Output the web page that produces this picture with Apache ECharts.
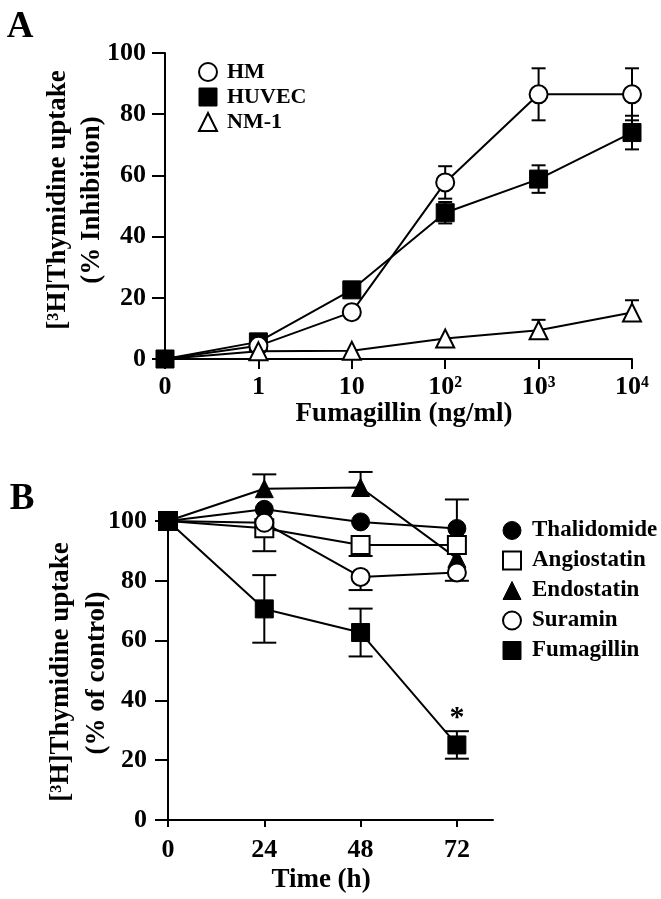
<!DOCTYPE html>
<html>
<head>
<meta charset="utf-8">
<script src="https://cdn.jsdelivr.net/npm/echarts@6/dist/echarts.min.js"></script>
<style>
html,body{margin:0;padding:0;background:#fff;}
#c{width:661px;height:899px;}
</style>
</head>
<body>
<div id="c"></div>
<script>
// ---------- Panel A data ----------
const xTicksA = ['0', '1', '10', '10²', '10³', '10⁴'];
const yTicksA = [0, 20, 40, 60, 80, 100];
const seriesNamesA = ['HM', 'HUVEC', 'NM-1'];
const hmA = [0, 4.3, 15.3, 57.7, 86.5, 86.5];
const hmErrA = [0, 0, 0, 5.3, 8.5, 8.5];
const huvecA = [0, 5.6, 22.6, 47.8, 58.8, 74];
const huvecErrA = [0, 0, 0, 3.5, 4.5, 5.5];
const nm1A = [0, 2.5, 2.7, 6.7, 9.4, 15.2];
const nm1ErrUpA = [0, 0, 0, 0, 3.4, 4];

// ---------- Panel B data ----------
const timeB = [0, 24, 48, 72];
const xTicksB = [0, 24, 48, 72];
const yTicksB = [0, 20, 40, 60, 80, 100];
const legendOrderB = ['Thalidomide', 'Angiostatin', 'Endostatin', 'Suramin', 'Fumagillin'];
const thalB = [100, 103.9, 99.7, 97.5];
const thalErrUpB = [0, 0, 0, 9.7];
const angioB = [100, 97.6, 92, 92];
const angioErrDownB = [0, 7.7, 3.7, 0];
const endoB = [100, 110.8, 111.2, 87.5];
const endoErrUpB = [0, 4.8, 5.2, 0];
const suraB = [100, 99.4, 81.3, 82.8];
const suraErrDownB = [0, 0, 4.4, 2.8];
const fumaB = [100, 70.6, 62.7, 25.1];
const fumaErrB = [0, 11.3, 8, 4.6];
const starIndexB = 3;

const FONT = 'Liberation Serif';

function errRows(xs, ys, up, down) {
  const rows = [];
  for (let i = 0; i < ys.length; i++) {
    if ((up[i] || 0) === 0 && (down[i] || 0) === 0) continue;
    rows.push([xs[i], ys[i], ys[i] - (down[i] || 0), ys[i] + (up[i] || 0)]);
  }
  return rows;
}

function errSeries(rows, xi, capW) {
  return {
    type: 'custom', xAxisIndex: xi, yAxisIndex: xi, z: 1, silent: true, clip: false,
    data: rows,
    encode: { x: 0, y: [1, 2, 3] },
    renderItem: function (params, api) {
      const x = api.value(0), y = api.value(1), lo = api.value(2), hi = api.value(3);
      const pLo = api.coord([x, lo]), pHi = api.coord([x, hi]);
      const hw = capW / 2;
      const st = { stroke: '#000', lineWidth: 2 };
      const ch = [{ type: 'line', shape: { x1: pLo[0], y1: pLo[1], x2: pHi[0], y2: pHi[1] }, style: st }];
      if (hi > y) ch.push({ type: 'line', shape: { x1: pHi[0] - hw, y1: pHi[1], x2: pHi[0] + hw, y2: pHi[1] }, style: st });
      if (lo < y) ch.push({ type: 'line', shape: { x1: pLo[0] - hw, y1: pLo[1], x2: pLo[0] + hw, y2: pLo[1] }, style: st });
      return { type: 'group', children: ch };
    }
  };
}

const openStyle = { color: '#fff', borderColor: '#000', borderWidth: 2 };
const fillStyle = { color: '#000', borderColor: '#000', borderWidth: 1 };

function lineSeries(name, xs, ys, xi, symbol, style, hideFirst, z, extra) {
  const data = ys.map((v, i) => {
    const item = { value: [xs[i], v] };
    if (hideFirst && i === 0) item.symbolSize = 0;
    if (extra && extra[i]) Object.assign(item, extra[i]);
    return item;
  });
  return {
    type: 'line', name: name, xAxisIndex: xi, yAxisIndex: xi, clip: false,
    data: data, symbol: symbol, symbolSize: 18, showAllSymbol: true,
    lineStyle: { color: '#000', width: 2 },
    itemStyle: style, z: z, silent: true
  };
}

const xA = xTicksA.map((t, i) => i);

const starExtra = [];
starExtra[starIndexB] = {
  label: { show: true, formatter: '*', position: 'top', distance: 2, fontFamily: FONT, fontWeight: 'bold', fontSize: 30, color: '#000' }
};

const axisText = { fontFamily: FONT, fontWeight: 'bold', fontSize: 26, color: '#000' };
const legendText = (sz, pad) => ({ fontFamily: FONT, fontWeight: 'bold', fontSize: sz, color: '#000', padding: [0, 0, 0, pad] });

const chart = echarts.init(document.getElementById('c'), null, { renderer: 'canvas' });
chart.setOption({
  animation: false,
  backgroundColor: '#fff',
  grid: [
    { left: 165, right: 29, top: 53, bottom: 540 },
    { left: 168, right: 168, top: 521, bottom: 79 }
  ],
  xAxis: [
    {
      gridIndex: 0, type: 'value', min: 0, max: xTicksA.length - 1, interval: 1,
      axisLine: { show: true, onZero: false, lineStyle: { color: '#000', width: 2 } },
      axisTick: { show: true, inside: false, length: 10, lineStyle: { color: '#000', width: 2 } },
      axisLabel: Object.assign({ margin: 15, formatter: v => xTicksA[v] }, axisText),
      splitLine: { show: false }
    },
    {
      gridIndex: 1, type: 'value', min: 0, max: 81,
      axisLine: { show: true, onZero: false, lineStyle: { color: '#000', width: 2 } },
      axisTick: { show: true, inside: false, length: 7, customValues: xTicksB, lineStyle: { color: '#000', width: 2 } },
      axisLabel: Object.assign({ margin: 17, customValues: xTicksB }, axisText),
      splitLine: { show: false }
    }
  ],
  yAxis: [
    {
      gridIndex: 0, type: 'value', min: yTicksA[0], max: yTicksA[yTicksA.length - 1], interval: 20,
      axisLine: { show: true, onZero: false, lineStyle: { color: '#000', width: 2 } },
      axisTick: { show: true, inside: false, length: 13, lineStyle: { color: '#000', width: 2 } },
      axisLabel: Object.assign({ margin: 19 }, axisText),
      splitLine: { show: false }
    },
    {
      gridIndex: 1, type: 'value', min: yTicksB[0], max: yTicksB[yTicksB.length - 1], interval: 20,
      axisLine: { show: true, onZero: false, lineStyle: { color: '#000', width: 2 } },
      axisTick: { show: true, inside: false, length: 13, lineStyle: { color: '#000', width: 2 } },
      axisLabel: Object.assign({ margin: 21 }, axisText),
      splitLine: { show: false }
    }
  ],
  legend: [
    {
      orient: 'vertical', left: 193, top: 56, itemWidth: 18, itemHeight: 18, itemGap: 3,
      selectedMode: false,
      textStyle: legendText(22, 5),
      data: [
        { name: seriesNamesA[0], icon: 'circle', itemStyle: openStyle },
        { name: seriesNamesA[1], icon: 'rect', itemStyle: fillStyle },
        { name: seriesNamesA[2], icon: 'triangle', itemStyle: openStyle }
      ]
    },
    {
      orient: 'vertical', left: 497, top: 514, itemWidth: 18, itemHeight: 18, itemGap: 7,
      selectedMode: false,
      textStyle: legendText(23, 6),
      data: [
        { name: legendOrderB[0], icon: 'circle', itemStyle: fillStyle },
        { name: legendOrderB[1], icon: 'rect', itemStyle: openStyle },
        { name: legendOrderB[2], icon: 'triangle', itemStyle: fillStyle },
        { name: legendOrderB[3], icon: 'circle', itemStyle: openStyle },
        { name: legendOrderB[4], icon: 'rect', itemStyle: fillStyle }
      ]
    }
  ],
  series: [
    errSeries(errRows(xA, hmA, hmErrA, hmErrA), 0, 14),
    errSeries(errRows(xA, huvecA, huvecErrA, huvecErrA), 0, 14),
    errSeries(errRows(xA, nm1A, nm1ErrUpA, []), 0, 14),
    lineSeries(seriesNamesA[1], xA, huvecA, 0, 'rect', fillStyle, false, 3),
    lineSeries(seriesNamesA[0], xA, hmA, 0, 'circle', openStyle, true, 4),
    lineSeries(seriesNamesA[2], xA, nm1A, 0, 'triangle', openStyle, true, 5),

    errSeries(errRows(timeB, thalB, thalErrUpB, []), 1, 24),
    errSeries(errRows(timeB, angioB, [], angioErrDownB), 1, 24),
    errSeries(errRows(timeB, endoB, endoErrUpB, []), 1, 24),
    errSeries(errRows(timeB, suraB, [], suraErrDownB), 1, 24),
    errSeries(errRows(timeB, fumaB, fumaErrB, fumaErrB), 1, 24),
    lineSeries('Thalidomide', timeB, thalB, 1, 'circle', fillStyle, false, 3),
    lineSeries('Endostatin', timeB, endoB, 1, 'triangle', fillStyle, false, 4),
    lineSeries('Angiostatin', timeB, angioB, 1, 'rect', openStyle, false, 5),
    lineSeries('Suramin', timeB, suraB, 1, 'circle', openStyle, false, 6),
    lineSeries('Fumagillin', timeB, fumaB, 1, 'rect', fillStyle, false, 7, starExtra)
  ],
  graphic: [
    { type: 'text', x: 20, y: 27, style: { text: 'A', font: 'bold 37px "Liberation Serif"', fill: '#000', align: 'center', verticalAlign: 'middle' } },
    { type: 'text', x: 22, y: 499, style: { text: 'B', font: 'bold 37px "Liberation Serif"', fill: '#000', align: 'center', verticalAlign: 'middle' } },
    { type: 'text', x: 58, y: 200, rotation: Math.PI / 2, style: { text: '[³H]Thymidine uptake', font: 'bold 27px "Liberation Serif"', fill: '#000', align: 'center', verticalAlign: 'middle' } },
    { type: 'text', x: 92, y: 200, rotation: Math.PI / 2, style: { text: '(% Inhibition)', font: 'bold 27px "Liberation Serif"', fill: '#000', align: 'center', verticalAlign: 'middle' } },
    { type: 'text', x: 404, y: 414, style: { text: 'Fumagillin (ng/ml)', font: 'bold 27px "Liberation Serif"', fill: '#000', align: 'center', verticalAlign: 'middle' } },
    { type: 'text', x: 61, y: 672, rotation: Math.PI / 2, style: { text: '[³H]Thymidine uptake', font: 'bold 27px "Liberation Serif"', fill: '#000', align: 'center', verticalAlign: 'middle' } },
    { type: 'text', x: 97, y: 673, rotation: Math.PI / 2, style: { text: '(% of control)', font: 'bold 27px "Liberation Serif"', fill: '#000', align: 'center', verticalAlign: 'middle' } },
    { type: 'text', x: 321, y: 880, style: { text: 'Time (h)', font: 'bold 27px "Liberation Serif"', fill: '#000', align: 'center', verticalAlign: 'middle' } }
  ]
});
</script>
</body>
</html>
